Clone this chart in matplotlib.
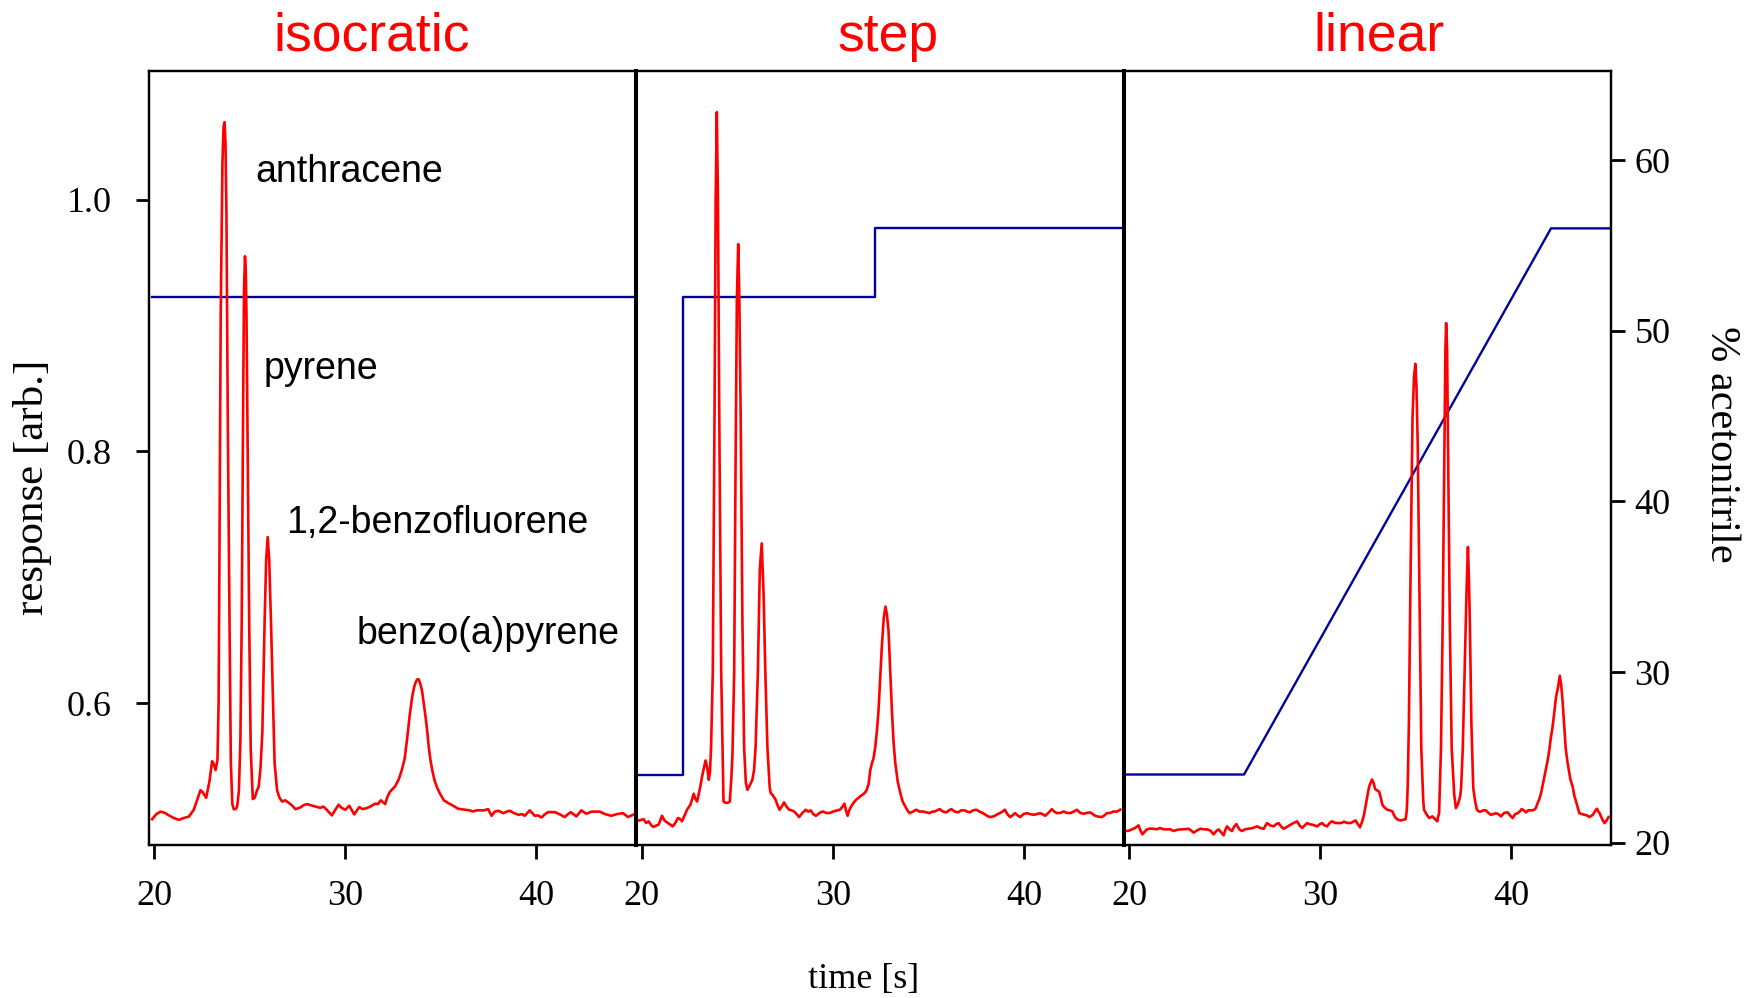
import matplotlib
matplotlib.use("Agg")
import matplotlib.pyplot as plt

# ---------------------------------------------------------------- data
panel_titles = ["isocratic", "step", "linear"]
x_ticks = [20, 30, 40]
resp_ticks = [0.6, 0.8, 1.0]
resp_tick_labels = ["0.6", "0.8", "1.0"]
pct_ticks = [20, 30, 40, 50, 60]

# detector trace, isocratic elution: time [s], response [arb.]
iso_t = [19.88, 20.10, 20.32, 20.55, 20.76, 21.00, 21.28, 21.55, 21.80, 22.06,
         22.25, 22.41, 22.55, 22.71, 22.88, 23.02, 23.10, 23.20, 23.30, 23.36,
         23.40, 23.47, 23.56, 23.62, 23.67, 23.72, 23.77, 23.84, 23.93, 24.00,
         24.08, 24.15, 24.25, 24.33, 24.42, 24.50, 24.57, 24.64, 24.69, 24.74,
         24.78, 24.82, 24.89, 24.96, 25.04, 25.15, 25.25, 25.35, 25.46, 25.55,
         25.65, 25.77, 25.85, 25.93, 26.01, 26.10, 26.20, 26.29, 26.42, 26.55,
         26.68, 26.85, 27.03, 27.20, 27.38, 27.60, 27.80, 27.98, 28.20, 28.45,
         28.68, 28.85, 29.05, 29.29, 29.45, 29.64, 29.80, 29.99, 30.20, 30.46,
         30.60, 30.72, 30.90, 31.12, 31.30, 31.55, 31.70, 31.85, 32.08, 32.20,
         32.34, 32.60, 32.80, 32.95, 33.10, 33.23, 33.36, 33.49, 33.58, 33.66,
         33.75, 33.84, 33.92, 34.01, 34.10, 34.19, 34.28, 34.36, 34.45, 34.54,
         34.66, 34.80, 34.96, 35.15, 35.38, 35.60, 35.90, 36.25, 36.50, 36.69,
         36.85, 37.04, 37.25, 37.47, 37.65, 37.82, 38.00, 38.26, 38.45, 38.61,
         38.80, 39.05, 39.25, 39.39, 39.65, 39.91, 40.08, 40.26, 40.45, 40.61,
         40.80, 40.96, 41.20, 41.48, 41.65, 41.79, 42.09, 42.35, 42.61, 42.88,
         43.10, 43.31, 43.60, 43.92, 44.20, 44.53, 44.79, 45.05]
iso_r = [0.508, 0.512, 0.514, 0.513, 0.511, 0.509, 0.5075, 0.509, 0.510, 0.5155,
         0.524, 0.531, 0.529, 0.525, 0.538, 0.554, 0.552, 0.547, 0.555, 0.600,
         0.706, 0.908, 1.029, 1.058, 1.0615, 1.045, 0.989, 0.827, 0.666, 0.553,
         0.520, 0.516, 0.516, 0.518, 0.530, 0.570, 0.666, 0.827, 0.928, 0.955,
         0.945, 0.908, 0.787, 0.666, 0.5645, 0.524, 0.525, 0.530, 0.534, 0.548,
         0.577, 0.666, 0.714, 0.732, 0.7135, 0.666, 0.605, 0.553, 0.531, 0.525,
         0.522, 0.523, 0.521, 0.519, 0.516, 0.517, 0.519, 0.520, 0.519, 0.518,
         0.517, 0.518, 0.515, 0.511, 0.515, 0.5195, 0.517, 0.5155, 0.5187, 0.5118,
         0.515, 0.5176, 0.516, 0.5168, 0.518, 0.5203, 0.520, 0.523, 0.520, 0.526,
         0.530, 0.534, 0.540, 0.547, 0.556, 0.572, 0.590, 0.6048, 0.612, 0.616,
         0.619, 0.619, 0.6155, 0.610, 0.600, 0.5897, 0.578, 0.5654, 0.555, 0.5472,
         0.539, 0.533, 0.528, 0.523, 0.5208, 0.519, 0.5163, 0.5155, 0.515, 0.5141,
         0.515, 0.515, 0.515, 0.516, 0.5107, 0.514, 0.5147, 0.5128, 0.514, 0.5147,
         0.513, 0.5115, 0.512, 0.5107, 0.515, 0.5107, 0.511, 0.5094, 0.512, 0.5136,
         0.5136, 0.5136, 0.512, 0.5097, 0.512, 0.5136, 0.5102, 0.515, 0.5123, 0.514,
         0.514, 0.514, 0.512, 0.5107, 0.512, 0.5128, 0.5097, 0.5115]

# detector trace, step gradient
step_t = [19.86, 20.09, 20.22, 20.35, 20.50, 20.61, 20.75, 20.87, 20.96, 21.05,
          21.18, 21.31, 21.45, 21.61, 21.75, 21.89, 22.00, 22.10, 22.23, 22.36,
          22.54, 22.63, 22.71, 22.80, 22.89, 22.96, 23.03, 23.15, 23.25, 23.33,
          23.42, 23.50, 23.56, 23.62, 23.71, 23.80, 23.86, 23.92, 23.98, 24.05,
          24.15, 24.27, 24.38, 24.50, 24.60, 24.68, 24.74, 24.83, 24.90, 24.97,
          25.04, 25.10, 25.17, 25.26, 25.35, 25.44, 25.52, 25.65, 25.78, 25.87,
          25.95, 26.07, 26.17, 26.27, 26.37, 26.46, 26.57, 26.69, 26.74, 26.85,
          27.00, 27.10, 27.20, 27.32, 27.44, 27.57, 27.70, 27.84, 27.97, 28.10,
          28.23, 28.40, 28.58, 28.71, 28.84, 28.97, 29.11, 29.30, 29.46, 29.64,
          29.81, 30.00, 30.16, 30.37, 30.50, 30.60, 30.68, 30.77, 30.85, 30.95,
          31.08, 31.21, 31.34, 31.47, 31.60, 31.73, 31.87, 31.95, 32.05, 32.12,
          32.21, 32.30, 32.38, 32.47, 32.56, 32.66, 32.75, 32.83, 32.91, 33.00,
          33.09, 33.17, 33.26, 33.39, 33.52, 33.65, 33.79, 33.90, 34.01, 34.18,
          34.36, 34.53, 34.71, 34.88, 35.06, 35.20, 35.32, 35.45, 35.59, 35.76,
          35.94, 36.07, 36.20, 36.38, 36.55, 36.72, 36.90, 37.03, 37.16, 37.33,
          37.51, 37.68, 37.86, 38.03, 38.21, 38.35, 38.48, 38.61, 38.74, 38.87,
          39.00, 39.13, 39.27, 39.40, 39.53, 39.67, 39.80, 39.97, 40.15, 40.32,
          40.50, 40.67, 40.84, 40.97, 41.11, 41.28, 41.46, 41.59, 41.72, 41.90,
          42.07, 42.25, 42.42, 42.60, 42.77, 42.95, 43.12, 43.30, 43.47, 43.60,
          43.73, 43.90, 44.08, 44.21, 44.34, 44.52, 44.69, 44.86, 45.04]
step_r = [0.507, 0.508, 0.505, 0.5063, 0.503, 0.5018, 0.503, 0.5036, 0.507, 0.5107,
          0.507, 0.5055, 0.504, 0.5023, 0.505, 0.509, 0.508, 0.5063, 0.511, 0.5155,
          0.5195, 0.524, 0.5282, 0.524, 0.5221, 0.527, 0.5318, 0.5419, 0.549, 0.5546,
          0.549, 0.5393, 0.545, 0.565, 0.625, 0.827, 1.000, 1.0695, 1.000, 0.827,
          0.625, 0.522, 0.521, 0.521, 0.522, 0.540, 0.560, 0.625, 0.785, 0.920,
          0.9646, 0.920, 0.827, 0.666, 0.5645, 0.537, 0.5313, 0.535, 0.5393, 0.547,
          0.565, 0.625, 0.706, 0.727, 0.686, 0.625, 0.5645, 0.533, 0.5287, 0.527,
          0.5234, 0.519, 0.5155, 0.518, 0.5213, 0.518, 0.5155, 0.515, 0.5141, 0.512,
          0.5097, 0.513, 0.5155, 0.514, 0.515, 0.512, 0.5107, 0.513, 0.5141, 0.513,
          0.5128, 0.514, 0.5147, 0.5155, 0.518, 0.5203, 0.515, 0.5107, 0.515, 0.5181,
          0.521, 0.5234, 0.525, 0.5266, 0.528, 0.530, 0.536, 0.5466, 0.553, 0.556,
          0.5645, 0.578, 0.593, 0.620, 0.6454, 0.668, 0.6768, 0.670, 0.6574, 0.626,
          0.593, 0.570, 0.553, 0.538, 0.529, 0.522, 0.518, 0.515, 0.5128, 0.514,
          0.5155, 0.514, 0.5141, 0.5135, 0.5128, 0.514, 0.5141, 0.515, 0.516, 0.514,
          0.5134, 0.515, 0.516, 0.514, 0.5134, 0.515, 0.515, 0.514, 0.5134, 0.515,
          0.5155, 0.514, 0.5128, 0.511, 0.5097, 0.510, 0.5107, 0.512, 0.5128, 0.514,
          0.5155, 0.512, 0.5097, 0.511, 0.5128, 0.511, 0.5097, 0.512, 0.5128, 0.512,
          0.5115, 0.512, 0.5128, 0.512, 0.5107, 0.513, 0.516, 0.514, 0.5128, 0.513,
          0.5141, 0.513, 0.5128, 0.514, 0.5155, 0.513, 0.5123, 0.513, 0.5134, 0.512,
          0.5107, 0.510, 0.5097, 0.511, 0.5128, 0.513, 0.5141, 0.514, 0.5155]

# detector trace, linear gradient
lin_t = [19.82, 20.00, 20.12, 20.30, 20.47, 20.58, 20.68, 20.80, 20.91, 21.08,
         21.26, 21.43, 21.61, 21.78, 21.96, 22.13, 22.31, 22.48, 22.66, 22.88,
         23.10, 23.23, 23.36, 23.53, 23.71, 23.88, 24.06, 24.23, 24.41, 24.54,
         24.67, 24.80, 24.93, 25.02, 25.11, 25.24, 25.37, 25.48, 25.60, 25.75,
         25.89, 26.06, 26.24, 26.46, 26.68, 26.85, 27.03, 27.20, 27.38, 27.55,
         27.68, 27.81, 27.95, 28.08, 28.25, 28.43, 28.60, 28.78, 28.91, 29.04,
         29.17, 29.30, 29.44, 29.57, 29.70, 29.83, 29.96, 30.09, 30.22, 30.35,
         30.48, 30.61, 30.78, 30.96, 31.10, 31.23, 31.40, 31.58, 31.71, 31.84,
         31.96, 32.07, 32.18, 32.28, 32.36, 32.45, 32.55, 32.70, 32.78, 32.86,
         32.95, 33.07, 33.16, 33.24, 33.37, 33.50, 33.64, 33.77, 33.86, 33.94,
         34.07, 34.20, 34.33, 34.46, 34.52, 34.57, 34.63, 34.72, 34.82, 34.90,
         34.97, 35.03, 35.09, 35.17, 35.28, 35.38, 35.42, 35.55, 35.69, 35.86,
         36.00, 36.12, 36.16, 36.21, 36.31, 36.40, 36.48, 36.54, 36.58, 36.63,
         36.69, 36.77, 36.87, 37.00, 37.09, 37.20, 37.31, 37.36, 37.45, 37.58,
         37.65, 37.72, 37.77, 37.82, 37.90, 38.00, 38.10, 38.19, 38.30, 38.40,
         38.53, 38.66, 38.79, 38.92, 39.05, 39.19, 39.32, 39.45, 39.62, 39.80,
         39.93, 40.06, 40.19, 40.32, 40.43, 40.53, 40.65, 40.76, 40.87, 40.98,
         41.08, 41.19, 41.28, 41.37, 41.46, 41.55, 41.66, 41.76, 41.83, 41.90,
         41.98, 42.07, 42.14, 42.22, 42.33, 42.44, 42.53, 42.60, 42.68, 42.76,
         42.84, 42.94, 43.08, 43.20, 43.30, 43.38, 43.55, 43.70, 43.82, 43.95,
         44.08, 44.26, 44.40, 44.48, 44.55, 44.61, 44.75, 44.87, 44.98, 45.08]
lin_r = [0.4986, 0.499, 0.4999, 0.501, 0.5031, 0.499, 0.4960, 0.498, 0.4999, 0.5005,
         0.5004, 0.500, 0.5010, 0.500, 0.4999, 0.500, 0.4986, 0.4995, 0.4999, 0.500,
         0.5004, 0.499, 0.4973, 0.499, 0.5004, 0.500, 0.4999, 0.499, 0.4960, 0.4985,
         0.4999, 0.4975, 0.4952, 0.4995, 0.5023, 0.500, 0.4986, 0.502, 0.5041, 0.500,
         0.4986, 0.500, 0.5004, 0.501, 0.5023, 0.501, 0.5004, 0.5049, 0.503, 0.5023,
         0.504, 0.5049, 0.502, 0.5004, 0.502, 0.5036, 0.505, 0.5063, 0.503, 0.5010,
         0.503, 0.5049, 0.504, 0.5036, 0.503, 0.5023, 0.504, 0.5049, 0.503, 0.5023,
         0.505, 0.5063, 0.505, 0.5049, 0.505, 0.5060, 0.505, 0.5049, 0.506, 0.507,
         0.504, 0.5015, 0.506, 0.5115, 0.518, 0.526, 0.534, 0.5395, 0.537, 0.532,
         0.531, 0.530, 0.525, 0.5195, 0.517, 0.5155, 0.515, 0.5141, 0.511, 0.5089,
         0.5075, 0.507, 0.5075, 0.508, 0.515, 0.535, 0.5847, 0.706, 0.827, 0.860,
         0.8696, 0.850, 0.807, 0.706, 0.5639, 0.523, 0.5155, 0.512, 0.5089, 0.5102,
         0.508, 0.5063, 0.510, 0.5126, 0.5645, 0.666, 0.7854, 0.880, 0.9019, 0.880,
         0.785, 0.666, 0.5645, 0.528, 0.5168, 0.520, 0.526, 0.532, 0.5639, 0.6454,
         0.690, 0.7241, 0.700, 0.666, 0.5847, 0.5326, 0.522, 0.5155, 0.514, 0.5141,
         0.515, 0.5150, 0.513, 0.5115, 0.512, 0.5128, 0.512, 0.5102, 0.513, 0.5134,
         0.511, 0.5089, 0.512, 0.5128, 0.514, 0.516, 0.515, 0.5134, 0.515, 0.5150,
         0.515, 0.5155, 0.517, 0.5208, 0.524, 0.5287, 0.537, 0.5446, 0.550, 0.5551,
         0.563, 0.5737, 0.580, 0.590, 0.6048, 0.613, 0.6219, 0.615, 0.6009, 0.583,
         0.5639, 0.5525, 0.540, 0.534, 0.526, 0.5221, 0.5128, 0.512, 0.5115, 0.511,
         0.5097, 0.5115, 0.515, 0.5163, 0.514, 0.5128, 0.508, 0.5049, 0.507, 0.5097]

# acetonitrile programme: time [s], % acetonitrile (breakpoints)
iso_grad_t = [19.86, 45.21]
iso_grad_pct = [52, 52]
step_grad_t = [19.86, 22.15, 32.22, 45.21]
step_grad_pct = [24, 52, 56, 56]
lin_grad_t = [19.86, 26.0, 42.07, 45.21]
lin_grad_pct = [24, 24, 56, 56]

# peak names written in the isocratic panel: (name, time, response)
peak_names = ["anthracene", "pyrene", "1,2-benzofluorene", "benzo(a)pyrene"]
peak_name_t = [25.30, 25.72, 26.87, 30.60]
peak_name_r = [1.0142, 0.8574, 0.7351, 0.6473]

# ---------------------------------------------------------------- style
RED = "#ff0000"
BLUE = "#00009c"
SERIF = "Liberation Serif"
SANS = "Liberation Sans"
plt.rcParams["font.family"] = SERIF

W, H = 1744, 998
fig = plt.figure(figsize=(W / 100, H / 100), dpi=100)

left0 = 148.5 / W
pw = 487.5 / W
bottom = 1 - 845.0 / H
ph = (845.0 - 70.5) / H

XLIM = (19.69, 45.21)
RLIM = (0.4875, 1.1025)
PLIM = (19.87, 65.25)

traces = [(iso_t, iso_r), (step_t, step_r), (lin_t, lin_r)]
grads = [(iso_grad_t, iso_grad_pct), (step_grad_t, step_grad_pct),
         (lin_grad_t, lin_grad_pct)]
grad_styles = ["default", "steps-post", "default"]
title_x = [371.7, 888.0, 1378.6]

for i in range(3):
    ax = fig.add_axes([left0 + i * pw, bottom, pw, ph])
    axp = ax.twinx()
    # red trace above the blue programme line
    axp.set_zorder(ax.get_zorder() - 1)
    ax.patch.set_visible(False)

    t, r = traces[i]
    ax.plot(t, r, color=RED, lw=1.9, solid_joinstyle="round")
    gt, gp = grads[i]
    axp.plot(gt, gp, color=BLUE, lw=1.7, drawstyle=grad_styles[i])

    ax.set_xlim(*XLIM)
    ax.set_ylim(*RLIM)
    axp.set_ylim(*PLIM)

    for a in (ax, axp):
        for s in a.spines.values():
            s.set_linewidth(1.6)
    # panel dividers are drawn heavier than the outer frame
    if i > 0:
        ax.spines["left"].set_linewidth(2.9)
        axp.spines["left"].set_linewidth(2.9)

    ax.set_xticks(x_ticks)
    ax.set_xticklabels([str(v) for v in x_ticks])
    ax.tick_params(axis="x", direction="out", length=10, width=2.0,
                   labelsize=26, pad=15)
    if i == 0:
        ax.set_yticks(resp_ticks)
        ax.set_yticklabels(resp_tick_labels)
        ax.tick_params(axis="y", direction="out", length=9.5, width=2.0,
                       labelsize=26, pad=17)
    else:
        ax.set_yticks([])
    if i == 2:
        axp.set_yticks(pct_ticks)
        axp.set_yticklabels([str(v) for v in pct_ticks])
        axp.tick_params(axis="y", direction="out", length=10, width=2.0,
                        labelsize=26, pad=7)
    else:
        axp.set_yticks([])

    fig.text(title_x[i] / W, 1 - 50.7 / H, panel_titles[i], color=RED,
             family=SANS, fontsize=38.5, ha="center", va="baseline")

    if i == 0:
        for name, nt, nr in zip(peak_names, peak_name_t, peak_name_r):
            ax.text(nt, nr, name, family=SANS, fontsize=27, ha="left",
                    va="baseline", color="black")

fig.text(32 / W, 1 - 487 / H, "response [arb.]", rotation=90, fontsize=31,
         ha="center", va="center")
fig.text(1721 / W, 1 - 444 / H, "% acetonitrile", rotation=270, fontsize=30.5,
         ha="center", va="center")
fig.text(864 / W, 1 - 988 / H, "time [s]", fontsize=26, ha="center",
         va="baseline")

fig.savefig("out.png", dpi=100)
